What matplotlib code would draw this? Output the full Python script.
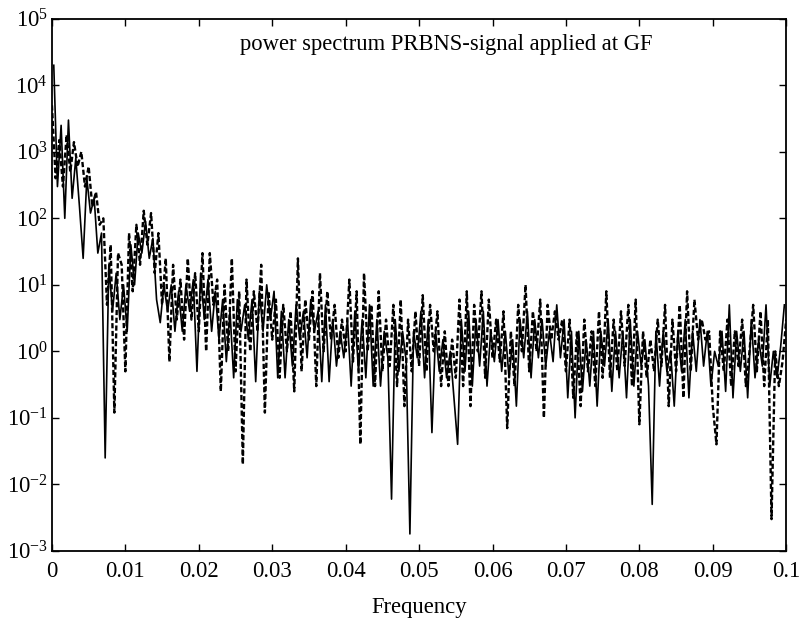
import numpy as np
import matplotlib
matplotlib.use("Agg")
import matplotlib.pyplot as plt
from matplotlib.ticker import FixedLocator, FuncFormatter, NullLocator

plt.rcParams['font.family'] = ['Liberation Serif', 'DejaVu Serif']
plt.rcParams['mathtext.fontset'] = 'custom'
plt.rcParams['mathtext.rm'] = 'Liberation Serif'
plt.rcParams['mathtext.it'] = 'Liberation Serif:italic'
plt.rcParams['mathtext.bf'] = 'Liberation Serif:bold'

# frequency grids (step 0.0005, solid offset by half a step)
freq_dashed = np.arange(201) * 0.0005
freq_solid = 0.00025 + np.arange(200) * 0.0005

# power, dashed trace
power_dashed = [
    5000, 400, 1500, 300, 1800, 500, 1400, 600, 1000, 300,
    600, 150, 250, 80, 100, 5, 40, 0.12, 30, 20,
    0.5, 60, 8, 80, 20, 130, 40, 120, 15, 60,
    5, 25, 0.7, 20, 3, 12, 1.5, 25, 3, 15,
    2, 30, 1.0, 30, 5, 12, 0.25, 10, 1.0, 25,
    0.5, 8, 0.02, 12, 1, 8, 2, 20, 0.12, 8,
    1.5, 6, 0.4, 5, 1, 4, 0.25, 25, 0.5, 6,
    1.5, 8, 0.3, 15, 1, 8, 1.5, 5, 0.8, 3,
    1, 12, 0.7, 8, 0.04, 15, 1, 5, 0.3, 8,
    0.5, 3, 0.6, 5, 0.3, 6, 0.15, 3, 0.5, 4,
    0.6, 7, 0.5, 5, 1, 4, 0.3, 2, 0.3, 1.5,
    0.4, 6, 0.3, 8, 0.15, 5, 1, 8, 0.4, 6,
    0.8, 3, 0.7, 4, 0.07, 2, 0.3, 5, 1, 10,
    0.5, 4, 1, 6, 0.1, 5, 1.5, 4, 1.5, 3,
    0.5, 3, 0.2, 2, 0.15, 3, 0.5, 2, 0.3, 4,
    0.4, 8, 0.4, 3, 0.5, 4, 0.6, 5, 0.3, 6,
    0.08, 2, 0.4, 1.5, 0.5, 3, 0.6, 5, 0.15, 3,
    0.5, 5, 0.2, 8, 0.5, 6, 1.5, 3, 1.5, 2,
    0.15, 0.04, 2, 0.5, 3, 0.3, 2, 0.6, 3, 0.3,
    1, 5, 0.5, 4, 0.3, 3, 0.003, 1, 0.3, 0.7,
    3,
]

# power, solid trace
power_solid = [
    20000, 300, 2500, 100, 3000, 200, 800, 150, 25, 400,
    120, 200, 30, 60, 0.025, 20, 4, 15, 3, 10,
    2, 40, 10, 60, 30, 90, 25, 50, 6, 2.7,
    10, 4, 10, 2, 8, 2, 10, 4, 12, 0.5,
    15, 3, 12, 2, 8, 1.5, 6, 0.7, 4, 0.4,
    6, 2, 5, 1.5, 6, 0.35, 8, 2, 10, 3,
    8, 0.4, 4, 0.4, 3, 0.6, 5, 1.5, 4, 0.8,
    6, 2, 4, 0.35, 5, 0.35, 3, 0.6, 2, 0.8,
    3, 0.3, 4, 0.5, 3, 0.4, 5, 0.3, 3, 0.3,
    2, 0.8, 0.006, 3, 0.5, 2, 0.7, 0.0018, 2, 0.8,
    4, 0.4, 3, 0.06, 2, 0.5, 1.5, 0.4, 1, 0.2,
    0.04, 3, 0.5, 4, 0.3, 3, 0.6, 4, 0.3, 2,
    0.7, 3, 0.5, 2, 0.4, 1.5, 0.15, 3, 0.8, 4,
    0.4, 3, 0.8, 3, 0.6, 2, 0.7, 5, 0.8, 3,
    0.2, 2, 0.1, 2, 0.25, 1.5, 0.3, 2, 0.15, 2,
    0.6, 3, 0.25, 2, 0.4, 2, 0.2, 3, 0.3, 2,
    0.6, 1.5, 0.3, 0.005, 2, 0.3, 2, 0.5, 1, 0.15,
    2, 0.5, 3, 0.2, 2, 0.5, 3, 0.6, 2, 0.3,
    1, 0.6, 2, 0.25, 5, 0.2, 2, 0.5, 2, 0.2,
    3, 0.4, 1.5, 0.6, 5, 0.3, 1, 0.4, 1.2, 5,
]

x_ticks = [0, 0.01, 0.02, 0.03, 0.04, 0.05, 0.06, 0.07, 0.08, 0.09, 0.1]
x_tick_labels = ['0', '0.01', '0.02', '0.03', '0.04', '0.05',
                 '0.06', '0.07', '0.08', '0.09', '0.1']
y_decades = [-3, -2, -1, 0, 1, 2, 3, 4, 5]

fig = plt.figure(figsize=(7.99, 6.26), dpi=100)
ax = fig.add_axes([0.065, 0.12, 0.919, 0.85])

ax.plot(freq_solid, power_solid, color='black', lw=1.2)
ax.plot(freq_dashed, power_dashed, color='black', lw=1.7, ls=(0, (2.2, 1.1)))

ax.set_yscale('log')
ax.set_xlim(0, 0.1)
ax.set_ylim(1e-3, 1e5)

ax.xaxis.set_major_locator(FixedLocator(x_ticks))
ax.set_xticklabels(x_tick_labels)
ax.yaxis.set_major_locator(FixedLocator([10.0 ** d for d in y_decades]))
ax.yaxis.set_major_formatter(FuncFormatter(lambda v, p: r'$10^{%d}$' % round(np.log10(v))))
ax.yaxis.set_minor_locator(NullLocator())

ax.tick_params(which='major', direction='in', length=5, width=1,
               top=True, right=True, labelsize=16.3, colors='black')
ax.tick_params(axis='x', pad=7)
ax.tick_params(axis='y', pad=3)
for s in ax.spines.values():
    s.set_linewidth(1.3)

ax.text(0.537, 0.951, 'power spectrum PRBNS-signal applied at GF',
        transform=ax.transAxes, ha='center', va='center', fontsize=16.3)
ax.set_xlabel('Frequency', fontsize=16.3, labelpad=11)

fig.savefig('out.png', dpi=100)
